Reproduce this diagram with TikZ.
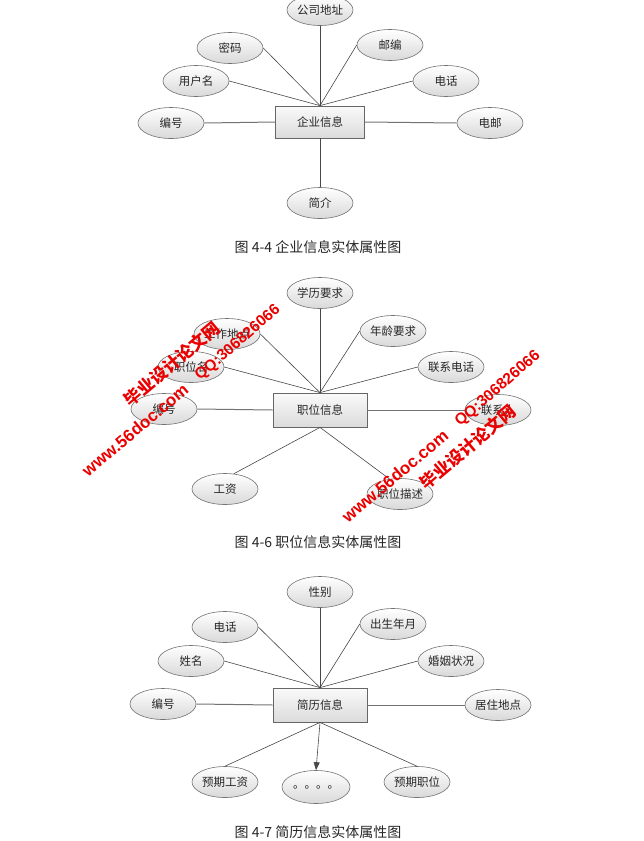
\documentclass[tikz,border=0pt]{standalone}
\usepackage{fontspec}
\setmainfont{Liberation Sans}
\newfontfamily\cjk{Noto Sans CJK SC}
\usetikzlibrary{shapes.geometric,arrows.meta}
\tikzset{
  attr/.style={ellipse, draw=black!55, line width=0.6pt, top color=white, bottom color=black!15,
    minimum width=66pt, minimum height=31pt, inner sep=0pt,
    font=\cjk\fontsize{11.5}{13}\selectfont, text=black!85},
  ent/.style={rectangle, draw=black!60, line width=0.8pt, top color=black!2, bottom color=black!14,
    minimum width=94pt, minimum height=34pt, inner sep=0pt,
    font=\cjk\fontsize{11.5}{13}\selectfont, text=black!85},
  link/.style={draw=black!72, line width=0.6pt},
  hlink/.style={draw=black!55, line width=1pt},
  captxt/.style={font=\cjk\fontsize{14}{16}\selectfont, text=black!85, inner sep=0pt},
  wmcn/.style={text=red!92!black, font=\cjk\bfseries\fontsize{17}{17}\selectfont, inner sep=0pt, rotate=40},
  wmen/.style={text=red!92!black, font=\bfseries\fontsize{17}{17}\selectfont, inner sep=0pt, rotate=40},
  wmqq/.style={text=red!92!black, font=\bfseries\fontsize{15.5}{16}\selectfont, inner sep=0pt, rotate=41}
}
\begin{document}
\begin{tikzpicture}[x=1pt,y=-1pt]
\useasboundingbox (0,0) rectangle (644,841);
% ---------- Figure 4-4 ----------
\node[ent, minimum width=89pt, minimum height=32pt] (e1) at (320,122) {企业信息};
\node[attr] (a1) at (320,10) {公司地址};
\node[attr] (a2) at (230,48) {密码};
\node[attr] (a3) at (390,45) {邮编};
\node[attr] (a4) at (196,81) {用户名};
\node[attr] (a5) at (446,81) {电话};
\node[attr] (a6) at (171,123) {编号};
\node[attr] (a7) at (490,123) {电邮};
\node[attr] (a8) at (320,203) {简介};
\draw[link] (a1.south) -- (e1.north);
\draw[link] (a2.east) -- (e1.north);
\draw[link] (a3.west) -- (e1.north);
\draw[link] (a4.east) -- (e1.north);
\draw[link] (a5.west) -- (e1.north);
\draw[hlink] (a6.east) -- (e1.west);
\draw[hlink] (e1.east) -- (a7.west);
\draw[link] (e1.south) -- (a8.north);
\node[captxt] (c1) at (318,247) {图 4-4 企业信息实体属性图};
% ---------- Figure 4-6 ----------
\node[ent] (e2) at (320,410) {职位信息};
\node[attr] (b1) at (320,293) {学历要求};
\node[attr] (b2) at (227,334) {工作地点};
\node[attr] (b3) at (393,331) {年龄要求};
\node[attr] (b4) at (191,367) {职位名};
\node[attr] (b5) at (451,367) {联系电话};
\node[attr] (b6) at (164,409) {编号};
\node[attr] (b7) at (498,410) {联系人};
\node[attr] (b8) at (225,489) {工资};
\node[attr] (b9) at (400,494) {职位描述};
\draw[link] (b1.south) -- (e2.north);
\draw[link] (b2.east) -- (e2.north);
\draw[link] (b3.west) -- (e2.north);
\draw[link] (b4.east) -- (e2.north);
\draw[link] (b5.west) -- (e2.north);
\draw[hlink] (b6.east) -- (e2.west);
\draw[hlink] (e2.east) -- (b7.west);
\draw[link] (e2.south) -- (b8.60);
\draw[link] (e2.south) -- (b9.125);
\node[captxt] (c2) at (318,542) {图 4-6 职位信息实体属性图};
% ---------- Figure 4-7 ----------
\node[ent] (e3) at (320,705) {简历信息};
\node[attr] (d1) at (320,592) {性别};
\node[attr] (d2) at (225,627) {电话};
\node[attr] (d3) at (393,624) {出生年月};
\node[attr] (d4) at (191,661) {姓名};
\node[attr] (d5) at (451,661) {婚姻状况};
\node[attr] (d6) at (163,704) {编号};
\node[attr] (d7) at (498,705) {居住地点};
\node[attr] (d8) at (225,782) {预期工资};
\node[attr, minimum width=68pt, minimum height=33pt] (d9) at (316,787) {。。。。};
\node[attr] (d10) at (417,782) {预期职位};
\draw[link] (d1.south) -- (e3.north);
\draw[link] (d2.east) -- (e3.north);
\draw[link] (d3.west) -- (e3.north);
\draw[link] (d4.east) -- (e3.north);
\draw[link] (d5.west) -- (e3.north);
\draw[hlink] (d6.east) -- (e3.west);
\draw[hlink] (e3.east) -- (d7.west);
\draw[link] (e3.south) -- (d8.north);
\draw[link] (e3.south) -- (d10.north);
\draw[link, -{Triangle[length=8pt,width=6pt]}] (e3.south) -- (d9.north);
\node[captxt] (c3) at (318,832) {图 4-7 简历信息实体属性图};
% ---------- watermarks ----------
\node[wmcn] (w1) at (172,364) {毕业设计论文网};
\node[wmqq] (w2) at (238,343) {QQ:306826066};
\node[wmen] (w3) at (135,430) {www.56doc.com};
\node[wmcn] (w4) at (468,447) {毕业设计论文网};
\node[wmqq] (w5) at (498,389) {QQ:306826066};
\node[wmen] (w6) at (395,476) {www.56doc.com};
\end{tikzpicture}
\end{document}
